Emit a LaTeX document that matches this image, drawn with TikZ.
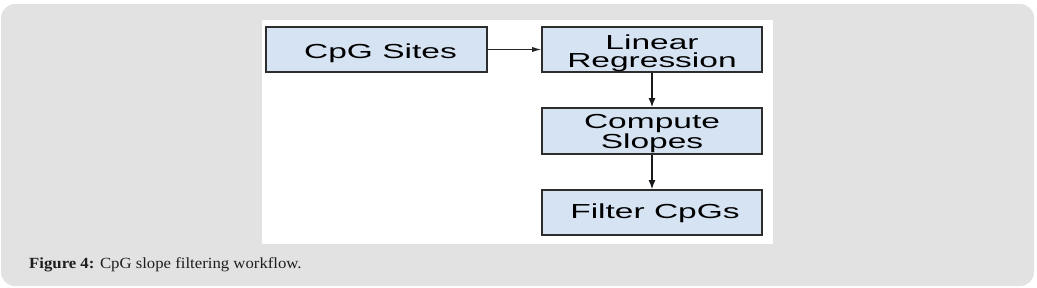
\documentclass[tikz,border=0pt]{standalone}
\usepackage{fontspec}
\setmainfont{Liberation Serif}
\newfontfamily\boxfont[FakeStretch=1.65]{Liberation Sans}
\newfontfamily\capfont[FakeStretch=1.08]{Liberation Serif}
\usetikzlibrary{arrows.meta}
\definecolor{panelgray}{RGB}{226,226,226}
\definecolor{boxfill}{RGB}{214,227,243}
\definecolor{boxline}{RGB}{45,45,45}
\definecolor{captxt}{RGB}{30,30,30}
\tikzset{
  flowbox/.style={draw=boxline, line width=1.6pt, fill=boxfill, rectangle,
    minimum width=220pt, inner sep=0pt},
  boxtext/.style={inner sep=0pt, align=center,
    font=\boxfont\fontsize{20.3}{18.6}\selectfont, text=black},
  thinarrow/.style={draw=black!85, line width=0.8pt, -{Latex[length=9pt,width=5pt]}},
  thickarrow/.style={draw=black!90, line width=1.5pt, -{Latex[length=9pt,width=7pt]}}
}
\begin{document}
\begin{tikzpicture}[x=1pt,y=-1pt]
\useasboundingbox (0,0) rectangle (1037,287);
\fill[white] (0,0) rectangle (1037,287);
\fill[panelgray, rounded corners=14pt] (1,4) rectangle (1034,286);
\fill[white] (262,20) rectangle (773,244);
\node[flowbox, minimum width=221pt, minimum height=45pt,
  label={[boxtext, xshift=4pt, yshift=-3.3pt]center:CpG Sites}] (sites) at (376.5,49.5) {};
\node[flowbox, minimum height=45pt,
  label={[boxtext, yshift=-3.6pt]center:{Linear\\Regression}}] (linreg) at (652,49.5) {};
\node[flowbox, minimum height=46pt,
  label={[boxtext, yshift=-2.9pt]center:{Compute\\Slopes}}] (slopes) at (652,131) {};
\node[flowbox, minimum height=45pt,
  label={[boxtext, xshift=3pt, yshift=-0.7pt]center:Filter CpGs}] (filter) at (652,212.5) {};
\draw[thinarrow] (sites) -- (linreg);
\draw[thickarrow] (linreg) -- (slopes);
\draw[thickarrow] (slopes) -- (filter);
\node[anchor=base west, inner sep=0pt, text=captxt, font=\capfont\fontsize{15.5}{17}\selectfont] (caption) at (29,268) {\textbf{Figure 4:} CpG slope filtering workflow.};
\end{tikzpicture}
\end{document}
